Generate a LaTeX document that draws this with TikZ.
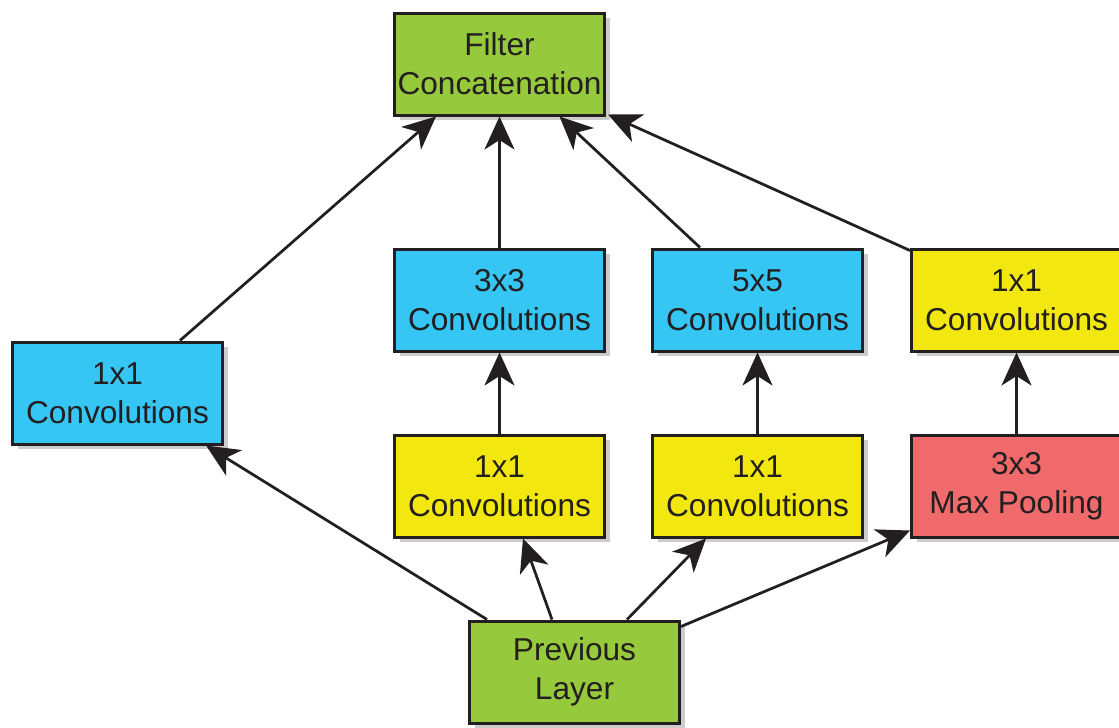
\documentclass[tikz,border=0pt]{standalone}
\usepackage{fontspec}
\setmainfont{Liberation Sans}
\usepackage{tikz}
\usetikzlibrary{positioning,arrows.meta,calc,shadows}
\definecolor{inkc}{HTML}{231F20}
\definecolor{leaf}{HTML}{97C93D}
\definecolor{sky}{HTML}{35C6F3}
\definecolor{lemon}{HTML}{F2E810}
\definecolor{coral}{HTML}{F06A6B}

\begin{document}
\begin{tikzpicture}[
    node distance=1.62cm and 0.9cm,
    block/.style={draw=inkc, line width=0.06cm, minimum width=4.2cm, minimum height=2.04cm, align=center, inner sep=0pt, text=inkc, font=\fontsize{18}{22}\selectfont, drop shadow={shadow xshift=0.1cm, shadow yshift=-0.1cm, fill=black, opacity=0.2}},
    gblock/.style={block, fill=leaf},
    bblock/.style={block, fill=sky},
    yblock/.style={block, fill=lemon},
    rblock/.style={block, fill=coral},
    arr/.style={-{Stealth[length=6.6mm, width=6mm, inset=1.9mm]}, line width=0.055cm, draw=inkc}
]
    \useasboundingbox (0,0) rectangle (22.38,-14.54);

    \node[bblock] (conv3) at (9.99,-6.0) {3x3\\Convolutions};
    \node[yblock, below=of conv3] (red3) {1x1\\Convolutions};
    \node[bblock, right=of conv3] (conv5) {5x5\\Convolutions};
    \node[yblock, below=of conv5] (red5) {1x1\\Convolutions};
    \node[yblock, right=0.92cm of conv5] (proj) {1x1\\Convolutions};
    \node[rblock, below=of proj] (pool) {3x3\\Max Pooling};
    \node[gblock, above=2.62cm of conv3] (concat) {Filter\\Concatenation};
    \coordinate (mid) at ($(conv3.south west)!0.5!(red3.north west)$);
    \node[bblock, left=3.38cm of mid] (conv1) {1x1\\Convolutions};
    \node[gblock, below=of red3, xshift=1.5cm] (prev) {Previous\\Layer};

    % from the previous layer
    \draw[arr] ([xshift=0.38cm]prev.north west) -- ([xshift=-0.36cm]conv1.south east);
    \draw[arr] ([xshift=1.68cm]prev.north west) -- ([xshift=0.47cm]red3.south);
    \draw[arr] ([xshift=3.18cm]prev.north west) -- ([xshift=-1.03cm]red5.south);
    \draw[arr] ([yshift=-0.14cm]prev.north east) -- ([yshift=0.16cm]pool.south west);

    \draw[arr] (red3) -- (conv3);
    \draw[arr] (red5) -- (conv5);
    \draw[arr] (pool) -- (proj);

    % into the concatenation
    \draw[arr] ([xshift=-0.88cm]conv1.north east) -- ([xshift=0.86cm]concat.south west);
    \draw[arr] (conv3) -- (concat);
    \draw[arr] ([xshift=0.98cm]conv5.north west) -- ([xshift=1.2cm]concat.south);
    \draw[arr] ([yshift=-0.06cm]proj.north west) -- ([xshift=0.04cm,yshift=0.04cm]concat.south east);
\end{tikzpicture}
\end{document}
